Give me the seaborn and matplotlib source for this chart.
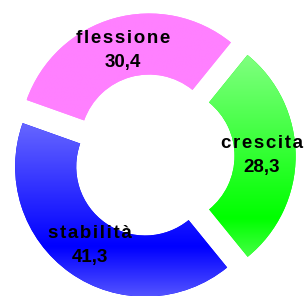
import numpy as np
import matplotlib.pyplot as plt
import seaborn as sns
from matplotlib.colors import ListedColormap

categories = ["crescita", "stabilità", "flessione"]
values = [28.3, 41.3, 30.4]

# vertical gradient per slice: top colour, darkest band, bottom colour
top_colors = ["#80ff80", "#6666ff", "#ff80ff"]
mid_colors = ["#00ff00", "#0000ff", "#ff80ff"]
bottom_colors = ["#44ff44", "#5555ff", "#ff80ff"]
dark_at = [0.81, 0.71, 0.8]

sns.set_theme(style="white")
plt.rcParams["font.family"] = ["Liberation Sans", "DejaVu Sans"]

fig = plt.figure(figsize=(3.05, 2.96), dpi=100)
ax = fig.add_axes([0, 0, 1, 1])

wedges, _ = ax.pie(values, startangle=51, counterclock=False,
                   explode=[0.1] * len(values), radius=1,
                   colors=mid_colors,
                   wedgeprops=dict(width=0.47, linewidth=0))

grad = np.linspace(0, 1, 256).reshape(-1, 1)
for w, cat, val, c0, c1, c2, f in zip(wedges, categories, values, top_colors,
                                      mid_colors, bottom_colors, dark_at):
    verts = w.get_path().vertices
    x0, x1 = verts[:, 0].min(), verts[:, 0].max()
    y0, y1 = verts[:, 1].min(), verts[:, 1].max()
    n1 = int(256 * f)
    cols = sns.blend_palette([c0, c1], n1) + sns.blend_palette([c1, c2], 256 - n1)
    im = ax.imshow(grad, cmap=ListedColormap(cols), extent=(x0, x1, y0, y1),
                   origin="upper", aspect="auto", interpolation="bilinear", zorder=2)
    im.set_clip_path(w)

    mid = np.deg2rad((w.theta1 + w.theta2) / 2)
    pos = np.array(w.center) + 0.74 * np.array([np.cos(mid), np.sin(mid)])
    # spaced-out letters like the original
    name = "\u200a".join(cat)
    label = f"{name}\n{val:.1f}".replace(".", ",")
    ax.text(pos[0], pos[1], label, ha="center", va="center", linespacing=1.55,
            fontsize=13.5, fontweight="bold", color="black", zorder=3)

ax.set_xlim(-1.174, 1.172)
ax.set_ylim(-1.077, 1.2)
ax.set_aspect("auto")
ax.axis("off")

fig.savefig("out.png", dpi=100)
